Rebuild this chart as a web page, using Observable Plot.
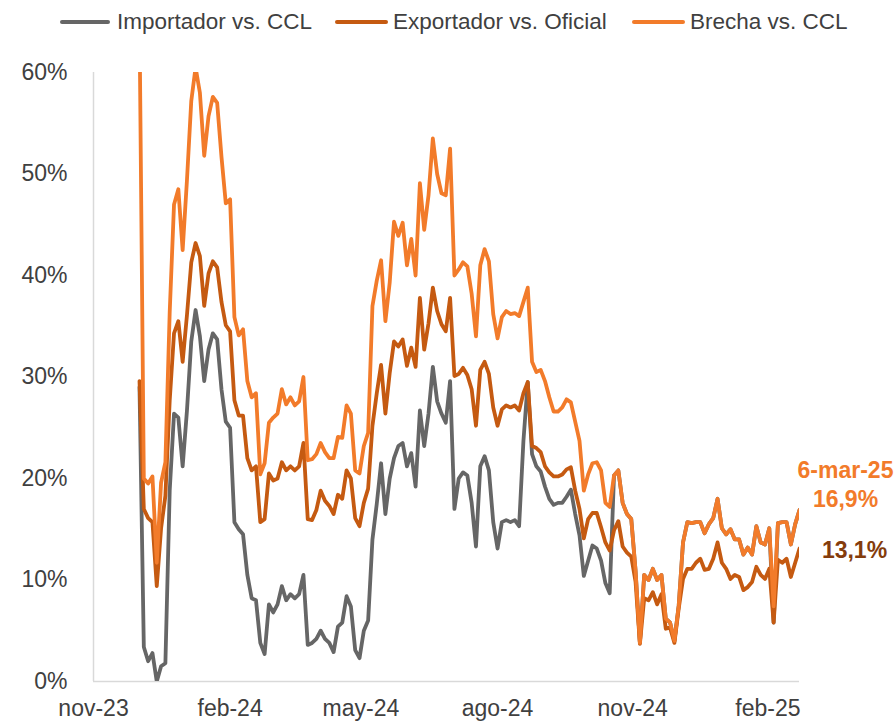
<!DOCTYPE html>
<html><head><meta charset="utf-8">
<script src="https://cdn.jsdelivr.net/npm/d3@7"></script>
<script src="https://cdn.jsdelivr.net/npm/@observablehq/plot@0.6"></script>
<style>
html,body{margin:0;padding:0;background:#fff;}
body{width:895px;height:722px;overflow:hidden;font-family:"Liberation Sans",Arial,sans-serif;}
#legend{position:relative;height:50px;width:895px;}
.item{position:absolute;top:0;height:44px;display:flex;align-items:center;font-size:22.5px;color:#404040;white-space:nowrap;}
.sw{height:4px;border-radius:2px;}
</style></head><body>
<div id="legend"></div>
<div id="chart"></div>
<script>
// x grid: one reading every 3 days, from the first date to 6-mar-25
const startDate = "2023-12-03";
const stepDays = 3;

const seriesNames = ["Importador vs. CCL", "Exportador vs. Oficial", "Brecha vs. CCL"];
const seriesColors = ["#666666", "#C55A11", "#F27B2A"];

const brecha = [65,20.0,19.5,20.2,11.7,19.6,21.6,36.4,47.0,48.5,42.5,49.4,57.2,60.5,58.0,51.8,55.7,57.6,57.0,51.7,
47.1,47.5,35.9,34.1,34.7,29.6,28.0,28.4,20.4,21.5,25.5,26.0,26.4,28.8,27.3,28.0,27.2,27.6,30.0,21.8,
21.9,22.4,23.5,22.6,22.0,22.0,24.1,24.0,27.2,26.4,20.8,20.5,23.2,24.5,37.0,39.5,41.5,35.5,39.3,45.3,
43.9,45.2,41.0,43.6,40.0,49.1,44.5,47.9,53.5,50.0,48.1,47.9,52.5,40.0,40.6,41.3,40.9,38.2,34.0,41.0,
42.6,41.4,36.2,33.8,35.9,36.5,36.2,36.3,36.0,37.4,38.8,31.5,30.5,30.7,29.6,28.0,26.6,26.6,27.0,27.8,
27.5,25.6,23.7,18.8,20.4,21.5,21.6,20.8,17.6,17.2,20.3,20.8,17.6,16.5,16.0,10.9,3.8,10.5,10.0,11.1,
10.0,10.5,6.2,5.8,4.0,7.5,13.7,15.7,15.6,15.7,15.7,14.6,15.5,16.1,18.0,15.1,14.5,15.0,14.0,14.0,
12.5,13.2,12.5,15.3,13.7,13.5,15.1,7.4,15.6,15.7,15.7,13.5,15.5,16.9];

const exportador = [29.6,17.0,16.1,15.7,9.4,15.1,18.3,27.7,34.3,35.5,31.5,36.1,41.3,43.2,41.9,37.0,40.2,41.4,40.8,37.4,
35.1,34.5,27.7,26.2,26.2,22.0,20.8,21.2,15.7,16.0,20.5,19.8,20.0,21.6,20.8,21.2,20.8,21.2,23.5,16.0,
15.9,16.9,18.8,17.8,17.3,16.5,18.4,18.0,20.8,20.0,16.1,15.3,17.6,19.0,25.2,28.4,31.2,26.4,30.4,33.5,
33.0,33.7,31.1,32.9,31.0,37.8,32.7,35.3,38.8,36.5,35.2,34.5,37.8,30.1,30.3,30.9,30.2,28.8,25.2,30.7,
31.5,30.3,27.0,25.2,26.8,27.2,27.0,27.2,26.7,28.4,29.5,23.2,23.0,22.6,21.2,20.6,20.2,20.2,20.4,20.9,
21.1,18.8,17.0,14.1,16.0,16.6,16.6,15.2,13.7,12.9,14.9,15.8,13.3,12.7,12.3,9.8,3.7,8.2,8.0,8.8,
7.6,8.6,5.2,5.3,3.8,7.2,10.1,11.1,11.1,11.7,12.1,11.0,11.1,12.1,13.7,11.7,11.1,10.1,10.5,10.3,
9.0,9.3,9.8,11.3,10.5,10.1,11.1,5.8,12.0,11.7,12.1,10.3,11.7,13.1];

const importador = [29.0,3.4,2.0,2.8,0.0,1.5,1.8,18.8,26.4,26.0,21.2,26.7,33.5,36.6,34.0,29.6,32.7,34.3,33.7,28.8,
25.6,25.0,15.7,15.0,14.5,10.5,8.2,8.0,3.8,2.7,7.6,6.8,7.6,9.4,8.0,8.6,8.2,8.6,10.5,3.6,
3.8,4.2,5.0,4.2,3.8,2.9,5.4,5.8,8.4,7.4,3.1,2.3,5.0,6.0,14.0,17.5,21.5,16.5,20.0,22.0,
23.2,23.5,21.2,22.5,19.2,26.7,23.2,26.4,31.0,27.6,26.4,25.5,29.6,17.0,20.0,20.6,20.3,17.6,13.3,21.2,
22.2,20.8,15.7,13.1,15.7,15.9,15.7,15.9,15.3,23.7,29.5,22.4,21.2,20.7,19.2,18.0,17.4,17.6,17.6,18.2,
18.9,16.5,14.4,10.4,11.9,13.4,13.1,11.9,9.7,8.7,20.3,20.8,17.6,16.5,16.0,10.9,3.8,10.5,10.0,11.1,
10.0,10.5,6.2,5.8,4.0,7.5,13.7,15.7,15.6,15.7,15.7,14.6,15.5,16.1,18.0,15.1,14.5,15.0,14.0,14.0,
12.5,13.2,12.5,15.3,13.7,13.5,15.1,5.8,15.6,15.7,15.7,13.5,15.5,16.9];

const yTicks = [0, 10, 20, 30, 40, 50, 60];
const xTickDates = ["2023-11-01","2024-02-04","2024-05-05","2024-08-08","2024-11-10","2025-02-12"];
const xTickLabels = ["nov-23","feb-24","may-24","ago-24","nov-24","feb-25"];
const xDomain = ["2023-11-01","2025-03-06"];
const lastDateLabel = "6-mar-25";

// legend (HTML, above the svg)
const legendLeft = [60, 335, 632];
const legendSwatch = [50, 53, 53];
const leg = document.getElementById("legend");
seriesNames.forEach((n, k) => {
  const it = document.createElement("div");
  it.className = "item";
  it.style.left = legendLeft[k] + "px";
  const sw = document.createElement("div");
  sw.className = "sw";
  sw.style.width = legendSwatch[k] + "px";
  sw.style.marginRight = (k === 0 ? 7 : 5) + "px";
  sw.style.background = seriesColors[k];
  const t = document.createElement("span");
  t.textContent = n;
  it.appendChild(sw); it.appendChild(t);
  leg.appendChild(it);
});

const start = new Date(startDate + "T00:00:00Z");
const dates = brecha.map((_, i) => d3.utcDay.offset(start, i * stepDays));
const allValues = [importador, exportador, brecha];
const rows = allValues.map((vals, k) => vals.map((v, i) => ({date: dates[i], v, s: seriesNames[k]})));

const labelMap = new Map(xTickDates.map((d, i) => [+new Date(d + "T00:00:00Z"), xTickLabels[i]]));
const fmt = v => v.toFixed(1).replace(".", ",") + "%";
const last = dates.length - 1;

const chart = Plot.plot({
  width: 895, height: 672,
  marginTop: 22, marginBottom: 41, marginLeft: 93, marginRight: 96,
  style: {fontFamily: "'Liberation Sans', Arial, sans-serif", fontSize: "23px", color: "#404040", background: "#fff"},
  x: {type: "utc", domain: xDomain.map(d => new Date(d + "T00:00:00Z")),
      ticks: xTickDates.map(d => new Date(d + "T00:00:00Z")),
      tickFormat: d => labelMap.get(+d), tickSize: 0, tickPadding: 18, label: null},
  y: {domain: [0, 60], ticks: yTicks, tickFormat: d => d + "%", tickSize: 0, tickPadding: 26, label: null},
  marks: [
    Plot.ruleX([new Date(xDomain[0] + "T00:00:00Z")], {stroke: "#d9d9d9", strokeWidth: 1.5}),
    Plot.ruleY([0], {stroke: "#d9d9d9", strokeWidth: 1.5}),
    ...rows.map((r, k) => Plot.line(r, {x: "date", y: "v", stroke: seriesColors[k], strokeWidth: 3.8,
        strokeLinejoin: "round", strokeLinecap: "round", clip: true})),
    Plot.text([{date: dates[last], v: brecha[last]}], {x: "date", y: "v", text: () => lastDateLabel,
        dx: 46, dy: -39, fill: seriesColors[2], fontWeight: "bold", fontSize: 23}),
    Plot.text([{date: dates[last], v: brecha[last]}], {x: "date", y: "v", text: d => fmt(d.v),
        dx: 46, dy: -10, fill: seriesColors[2], fontWeight: "bold", fontSize: 23}),
    Plot.text([{date: dates[last], v: exportador[last]}], {x: "date", y: "v", text: d => fmt(d.v),
        dx: 55, dy: 2, fill: "#843C0C", fontWeight: "bold", fontSize: 23})
  ]
});
document.getElementById("chart").appendChild(chart);
</script>
</body></html>
